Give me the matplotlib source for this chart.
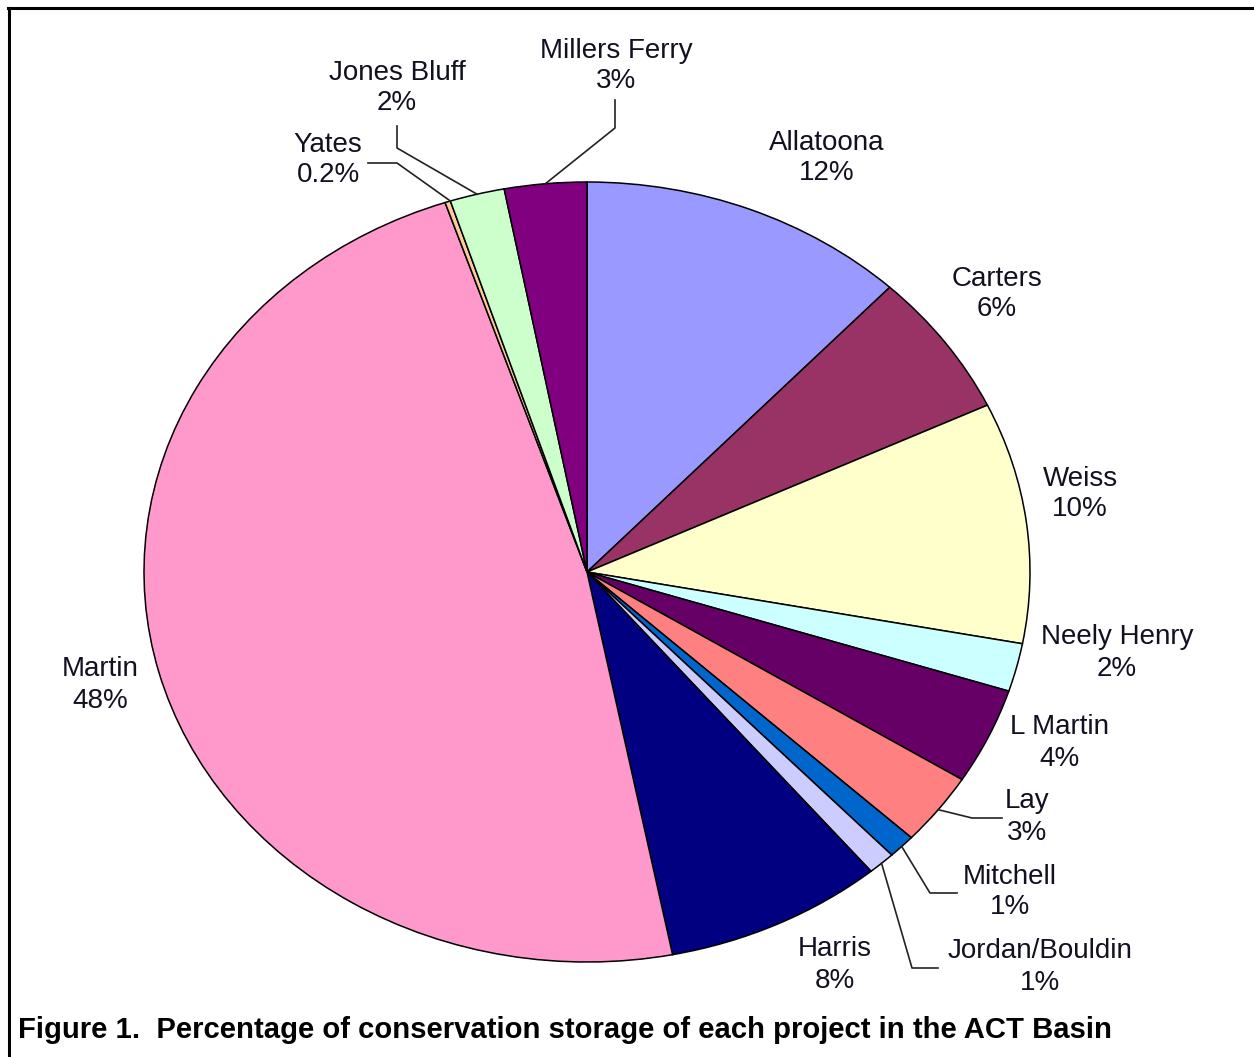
import numpy as np
import matplotlib
matplotlib.use("Agg")
import matplotlib.pyplot as plt
from matplotlib.lines import Line2D

plt.rcParams['font.family'] = ['Liberation Sans', 'DejaVu Sans']

# Conservation storage share of each project (percent), clockwise from 12 o'clock
projects = ["Allatoona", "Carters", "Weiss", "Neely Henry", "L Martin", "Lay",
            "Mitchell", "Jordan/Bouldin", "Harris", "Martin", "Yates",
            "Jones Bluff", "Millers Ferry"]
shares = [12, 6, 10, 2, 4, 3, 1, 1, 8, 48, 0.2, 2, 3]
share_labels = ["12%", "6%", "10%", "2%", "4%", "3%", "1%", "1%", "8%",
                "48%", "0.2%", "2%", "3%"]
caption = "Figure 1.  Percentage of conservation storage of each project in the ACT Basin"

colors = ["#9999FF", "#993366", "#FFFFCC", "#CCFFFF", "#660066", "#FF8080",
          "#0066CC", "#CCCCFF", "#000080", "#FF99CC", "#FFCC99", "#CCFFCC",
          "#800080"]

W, H = 1254, 1057
fig = plt.figure(figsize=(W / 100, H / 100), dpi=100)

# Pie axes: ellipse spanning x 144..1030, y 182..962 (pixels from top-left)
cx, cy, a, b = 587, 572, 443, 390
ax = fig.add_axes([(cx - a) / W, (H - (cy + b)) / H, 2 * a / W, 2 * b / H])
wedges, _ = ax.pie(shares, colors=colors, startangle=90, counterclock=False,
                   radius=1.0,
                   wedgeprops=dict(edgecolor="black", linewidth=1.1))
ax.set_xlim(-1, 1)
ax.set_ylim(-1, 1)
ax.set_aspect("auto")
ax.axis("off")

# Overlay in pixel coordinates for labels, leader lines and frame
ov = fig.add_axes([0, 0, 1, 1], facecolor="none")
ov.set_xlim(0, W)
ov.set_ylim(H, 0)
ov.axis("off")


def edge_point(idx, frac=0.5):
    w = wedges[idx]
    ang = np.deg2rad(w.theta1 + (w.theta2 - w.theta1) * frac)
    disp = ax.transData.transform((np.cos(ang), np.sin(ang)))
    return ov.transData.inverted().transform(disp)


# label centre positions (pixels) and optional leader elbows
label_pos = {
    "Allatoona": (827, 158),
    "Carters": (997, 294),
    "Weiss": (1080, 494),
    "Neely Henry": (1117, 653),
    "L Martin": (1060, 743),
    "Lay": (1027, 817),
    "Mitchell": (1010, 892),
    "Jordan/Bouldin": (1040, 967),
    "Harris": (835, 965),
    "Martin": (100, 685),
    "Yates": (328, 160),
    "Jones Bluff": (397, 88),
    "Millers Ferry": (616, 66),
}
leaders = {
    "Millers Ferry": [(615, 100), (615, 128)],
    "Jones Bluff": [(397, 126), (397, 148)],
    "Yates": [(368, 163), (397, 163)],
    "Lay": [(1002, 818), (972, 818)],
    "Mitchell": [(957, 893), (930, 893)],
    "Jordan/Bouldin": [(938, 968), (912, 968)],
}

for i, (name, pct) in enumerate(zip(projects, share_labels)):
    x, y = label_pos[name]
    ov.text(x, y, f"{name}\n{pct}", ha="center", va="center", fontsize=20,
            color="#111122", linespacing=1.25)
    if name in leaders:
        frac = 0.0 if name == "Yates" else 0.5
        px, py = edge_point(i, frac)
        pts = leaders[name] + [(px, py)]
        xs, ys = zip(*pts)
        ov.add_line(Line2D(xs, ys, color="#222222", lw=1.2))

# caption
ov.text(18, 1030, caption, ha="left", va="center", fontsize=21.1,
        fontweight="bold", color="black")

# frame (top and left edges)
ov.add_line(Line2D([8, W], [8, 8], color="black", lw=2.2))
ov.add_line(Line2D([8.5, 8.5], [8, H], color="black", lw=2.2))

fig.savefig("out.png", dpi=100, facecolor="white")
